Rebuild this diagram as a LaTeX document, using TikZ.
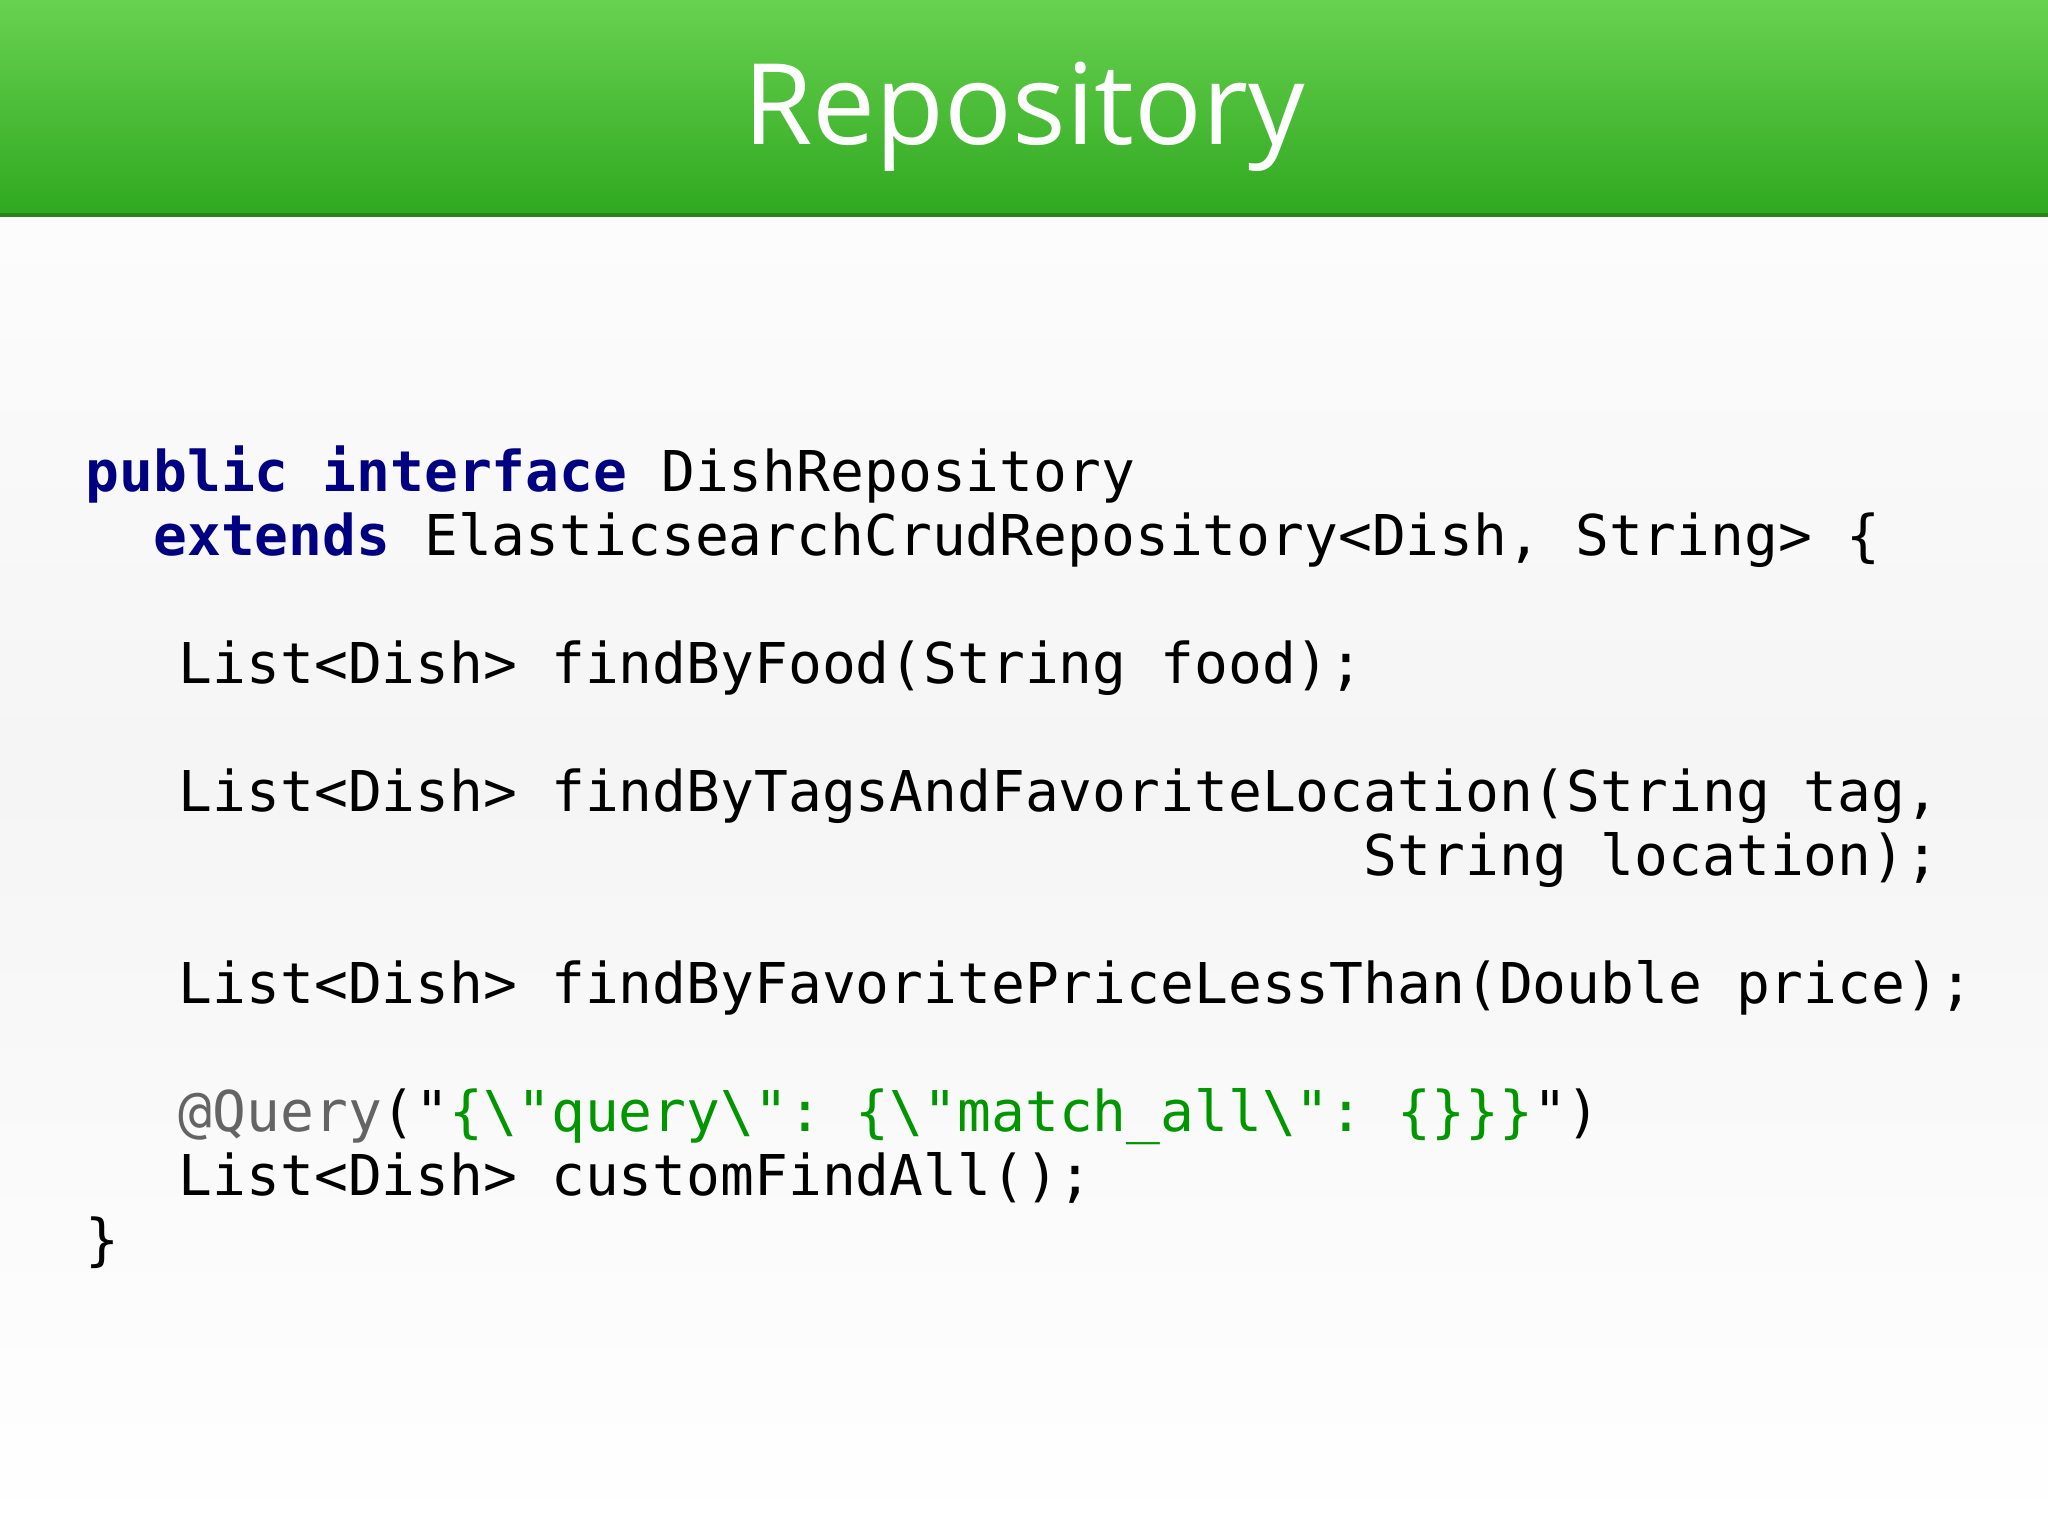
\documentclass[tikz,border=0pt]{standalone}
\usepackage{fontspec}
\setmonofont{DejaVu Sans Mono}
\setsansfont{Open Sans}
\definecolor{kw}{RGB}{0,0,128}
\definecolor{ann}{RGB}{100,100,100}
\definecolor{str}{RGB}{0,150,0}
\definecolor{gtop}{RGB}{104,210,80}
\definecolor{gbot}{RGB}{48,168,32}
\begin{document}
\begin{tikzpicture}[x=1cm,y=1cm,
  code/.style={anchor=base west,inner sep=0pt,font=\ttfamily\fontsize{16pt}{19pt}\selectfont}]
\useasboundingbox (0,0) rectangle (20.48,-15.35);
\shade[top color=white,bottom color=white,middle color=gray!8] (0,0) rectangle (20.48,-15.35);
\shade[top color=gtop,bottom color=gbot] (0,0) rectangle (20.48,-2.15);
\draw[gbot!80!black,line width=1pt] (0,-2.15) -- (20.48,-2.15);
\node[text=white,font=\sffamily\fontsize{32pt}{38pt}\selectfont] (title) at (10.24,-1.17) {Repository};
\def\cw{0.3386}
\def\lx{0.85}
\def\ly{-4.91}
\def\lh{0.64}
\def\ind{2.75}
\node[code] (l0) at (\lx,\ly) {\textcolor{kw}{\bfseries public interface} DishRepository};
\node[code] (l1) at (\lx+2*\cw,\ly-1*\lh) {\textcolor{kw}{\bfseries extends} ElasticsearchCrudRepository<Dish, String> \{};
\node[code] (l3) at (\lx+\ind*\cw,\ly-3*\lh) {List<Dish> findByFood(String food);};
\node[code] (l5) at (\lx+\ind*\cw,\ly-5*\lh) {List<Dish> findByTagsAndFavoriteLocation(String tag,};
\node[code] (l6) at (\lx+37.75*\cw,\ly-6*\lh) {String location);};
\node[code] (l8) at (\lx+\ind*\cw,\ly-8*\lh) {List<Dish> findByFavoritePriceLessThan(Double price);};
\node[code] (l10) at (\lx+\ind*\cw,\ly-10*\lh) {\textcolor{ann}{@Query}("\textcolor{str}{\{\textbackslash"query\textbackslash": \{\textbackslash"match\_all\textbackslash": \{\}\}\}}")};
\node[code] (l11) at (\lx+\ind*\cw,\ly-11*\lh) {List<Dish> customFindAll();};
\node[code] (l12) at (\lx,\ly-12*\lh) {\}};
\end{tikzpicture}
\end{document}
